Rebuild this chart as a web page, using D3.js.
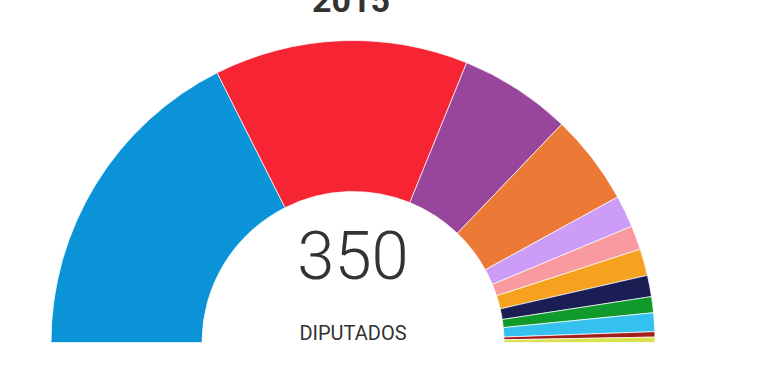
<!DOCTYPE html>
<html>
<head>
<meta charset="utf-8">
<script src="https://cdn.jsdelivr.net/npm/d3@7"></script>
<style>
  html, body { margin: 0; padding: 0; background: #fff; }
  svg { display: block; }
</style>
</head>
<body>
<div id="chart"></div>
<script>
const parties = ["PP", "PSOE", "Podemos", "Ciudadanos", "En Comú", "Compromís", "ERC", "DiL", "En Marea", "PNV", "IU", "EH Bildu"];
const seats = [123, 95, 42, 34, 12, 9, 10, 8, 6, 7, 2, 2];
const colors = ["#0b93d8", "#f72434", "#98469c", "#ec7935", "#cc9cf7", "#f89aa0", "#f7a21f", "#1b1e55", "#0f9a2b", "#35c1ef", "#a51c1c", "#d9e24c"];
const title = "2015";
const totalLabel = "DIPUTADOS";

function Config(width = 770) {
    this.width = width;
    this.height = 380;
    this.cx = 353;
    this.cy = 342.5;
    this.outer = 302;
    this.inner = 151;
}

function plotData(cfg) {
    const data = parties.map((p, i) => ({party: p, seats: seats[i], color: colors[i]}));

    const svg = d3.select("#chart").append("svg")
        .attr("width", cfg.width)
        .attr("height", cfg.height);

    const pie = d3.pie()
        .sort(null)
        .value(d => d.seats)
        .startAngle(-Math.PI / 2)
        .endAngle(Math.PI / 2);

    const arc = d3.arc()
        .innerRadius(cfg.inner)
        .outerRadius(cfg.outer);

    const g = svg.append("g")
        .attr("transform", `translate(${cfg.cx},${cfg.cy})`);

    g.selectAll("path")
        .data(pie(data))
        .join("path")
        .attr("d", arc)
        .attr("fill", d => d.data.color)
        .attr("stroke", "#fff")
        .attr("stroke-width", 0.7);

    // total in the middle
    g.append("text")
        .attr("text-anchor", "middle")
        .attr("y", -64)
        .attr("font-family", "Roboto")
        .attr("font-weight", 300)
        .attr("font-size", "67px")
        .attr("fill", "#333")
        .text(d3.sum(seats));

    g.append("text")
        .attr("text-anchor", "middle")
        .attr("y", -2.5)
        .attr("font-family", "Roboto")
        .attr("font-size", "20px")
        .attr("fill", "#333")
        .text(totalLabel);

    svg.append("text")
        .attr("text-anchor", "middle")
        .attr("x", cfg.cx - 2)
        .attr("y", 12)
        .attr("font-family", "Roboto")
        .attr("font-weight", 700)
        .attr("font-size", "34px")
        .attr("fill", "#333")
        .text(title);
}

document.addEventListener("DOMContentLoaded", () => plotData(new Config()));
</script>
</body>
</html>
